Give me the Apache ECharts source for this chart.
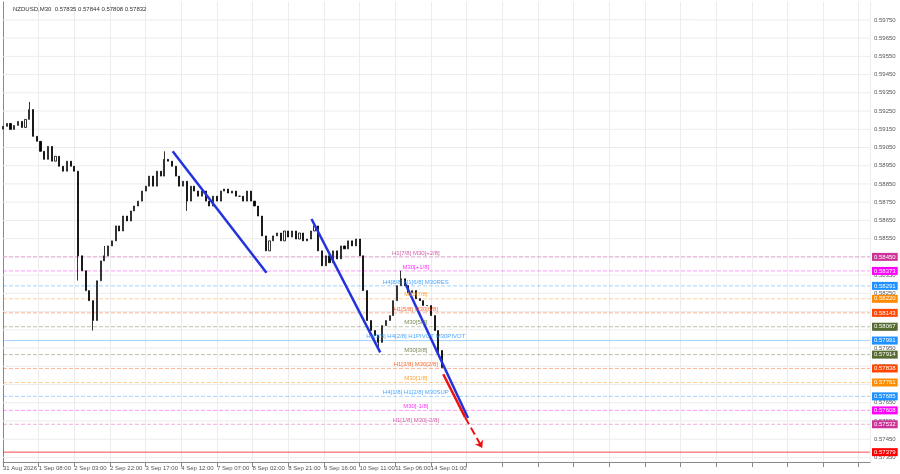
<!DOCTYPE html>
<html><head><meta charset="utf-8">
<script src="https://cdn.jsdelivr.net/npm/echarts@6/dist/echarts.min.js"></script>
<style>html,body{margin:0;padding:0;background:#fff}#c{width:900px;height:474px}</style>
</head><body><div id="c"></div>
<script>
const title = "NZDUSD,M30  0.57835 0.57844 0.57808 0.57832";
const timeLabels = ["31 Aug 2026","1 Sep 08:00","2 Sep 03:00","2 Sep 22:00","3 Sep 17:00","4 Sep 12:00","7 Sep 07:00","8 Sep 02:00","8 Sep 21:00","9 Sep 16:00","10 Sep 11:00","11 Sep 06:00","14 Sep 01:00"];
const firstOpen = 0.59150;
const closes = [0.59166,0.59182,0.59149,0.59171,0.59193,0.59160,0.59204,0.59258,0.59111,0.59084,0.59029,0.58985,0.59056,0.58975,0.59002,0.58947,0.58920,0.58975,0.58947,0.58920,
0.58456,0.58374,0.58265,0.58210,0.58101,0.58319,0.58428,0.58456,0.58510,0.58538,0.58620,0.58592,0.58674,0.58647,0.58702,0.58729,0.58756,0.58811,0.58838,0.58893,
0.58838,0.58920,0.58893,0.58985,0.58975,0.58947,0.58893,0.58838,0.58865,0.58756,0.58838,0.58811,0.58783,0.58811,0.58756,0.58729,0.58783,0.58756,0.58811,0.58822,
0.58800,0.58811,0.58783,0.58783,0.58756,0.58811,0.58756,0.58729,0.58674,0.58565,0.58483,0.58538,0.58565,0.58581,0.58538,0.58592,0.58559,0.58592,0.58548,0.58581,
0.58538,0.58548,0.58592,0.58620,0.58483,0.58401,0.58456,0.58418,0.58483,0.58439,0.58510,0.58494,0.58538,0.58510,0.58548,0.58456,0.58265,0.58101,0.58046,0.58019,
0.57981,0.58073,0.58101,0.58128,0.58210,0.58292,0.58330,0.58292,0.58254,0.58265,0.58221,0.58210,0.58183,0.58183,0.58128,0.58046,0.57937,0.57843];
const spikeHigh = {7:0.59300, 43:0.59029, 106:0.58374, 27:0.58510};
const spikeLow = {24:0.58046, 49:0.58702, 100:0.57937, 116:0.57900, 20:0.58320};
const priceTicks = [0.5975,0.5965,0.5955,0.5945,0.5935,0.5925,0.5915,0.5905,0.5895,0.5885,0.5875,0.5865,0.5855,0.5845,0.5835,0.5825,0.5815,0.5805,0.5795,0.5785,0.5775,0.5765,0.5755,0.5745,0.5735];
const levelPrices = [0.58450,0.58373,0.58291,0.58220,0.58143,0.58067,0.57991,0.57914,0.57838,0.57761,0.57685,0.57608,0.57532,0.57379];
const levelColors = ["#cc3399","#ff00ff","#1e90ff","#ff8c00","#ff4500","#556b2f","#1e90ff","#556b2f","#ff4500","#ff8c00","#1e90ff","#ff00ff","#cc3399","#ff0000"];
const levelTexts = ["H1[7/8] M30[+2/8]","M30[+1/8]","H4[8/8] H1[6/8] M30RES","M30[7/8]","H1[5/8] M30[6/8]","M30[5/8]","H4[3/8] H4[2/8] H1PIVOT M30PIVOT","M30[3/8]","H1[3/8] M30[2/8]","M30[1/8]","H4[1/8] H1[2/8] M30SUP","M30[-1/8]","H1[1/8] M30[-2/8]",""];
const trendBlue = [[[45.2,0.59029],[70.2,0.58363]],[[82.2,0.58658],[100.5,0.57926]],[[107.2,0.58303],[123.9,0.57566]]];
const redSolid = [[117.3,0.57806],[123.1,0.57571]];
const redDash = [[123.1,0.57571],[127.7,0.57402]];
const X_MAX = 231;

const candles = closes.map((c,i)=>{
  const o = i===0?firstOpen:closes[i-1];
  const h = spikeHigh[i]!==undefined?Math.max(spikeHigh[i],o,c):Math.max(o,c);
  const l = spikeLow[i]!==undefined?Math.min(spikeLow[i],o,c):Math.min(o,c);
  return [i,o,c,l,h];
});

const gridSeries = priceTicks.map(p=>({type:'line',silent:true,symbol:'none',data:[[0,p],[X_MAX,p]],z:1,
  lineStyle:{color:'#ececec',width:1},
  endLabel:{show:true,formatter:p.toFixed(5),color:'#555',fontSize:6,distance:4}}));
const levelSeries = levelPrices.map((p,i)=>({type:'line',silent:true,symbol:'none',data:[[0,p],[X_MAX,p]],z:2,
  lineStyle:{color:levelColors[i],type:(i===13||i===6)?'solid':'dashed',width:1,opacity:i===13?0.7:0.4},
  endLabel:{show:true,formatter:p.toFixed(5),color:'#fff',backgroundColor:levelColors[i],fontSize:6,padding:[1,2],distance:2}}));
const textPts = levelPrices.map((p,i)=>({value:[110,p],label:{formatter:levelTexts[i],color:levelColors[i]}})).filter((d,i)=>levelTexts[i]);

const chart = echarts.init(document.getElementById('c'));
chart.setOption({
  animation:false,
  title:{text:title,left:8,top:1,textStyle:{fontSize:6,fontWeight:'normal',color:'#333'}},
  grid:{left:1,right:30,top:2,bottom:12},
  xAxis:{type:'value',min:0,max:X_MAX,interval:9.5,
    axisLine:{lineStyle:{color:'#888'}},axisTick:{show:true,lineStyle:{color:'#888'}},
    splitLine:{show:true,lineStyle:{color:'#ececec'}},
    axisLabel:{fontSize:6,color:'#555',align:'left',margin:3,showMinLabel:true,showMaxLabel:false,hideOverlap:false,
      formatter:v=>{const k=Math.round(v/9.5);return timeLabels[k]||'';}}},
  yAxis:{type:'value',position:'right',min:0.57325,max:0.59848,
    axisLabel:{show:false},splitLine:{show:false},axisLine:{show:true,lineStyle:{color:'#888'}},axisTick:{show:false}},
  series:[
    ...gridSeries, ...levelSeries,
    {type:'candlestick',data:candles,barWidth:1.6,z:5,
      itemStyle:{color:'#ffffff',color0:'#000000',borderColor:'#000000',borderColor0:'#000000',borderWidth:0.8}},
    ...trendBlue.map(seg=>({type:'line',data:seg,symbol:'none',z:6,lineStyle:{color:'#2233dd',width:2.5}})),
    {type:'line',data:redSolid,symbol:'none',z:6,lineStyle:{color:'#ee1111',width:2.5}},
    {type:'line',data:redDash,symbol:'none',z:6,lineStyle:{color:'#ee1111',width:2,type:'dashed'},
      markLine:{silent:true,symbol:['none','arrow'],symbolSize:7,data:[[{coord:redDash[0],symbol:'none'},{coord:redDash[1]}]],
        lineStyle:{color:'#ee1111',width:0.01,type:'solid'},itemStyle:{color:'#ee1111'},label:{show:false}}},
    {type:'scatter',data:textPts,symbolSize:0,z:7,label:{show:true,position:'top',distance:1,fontSize:6}}
  ]
});
</script></body></html>
